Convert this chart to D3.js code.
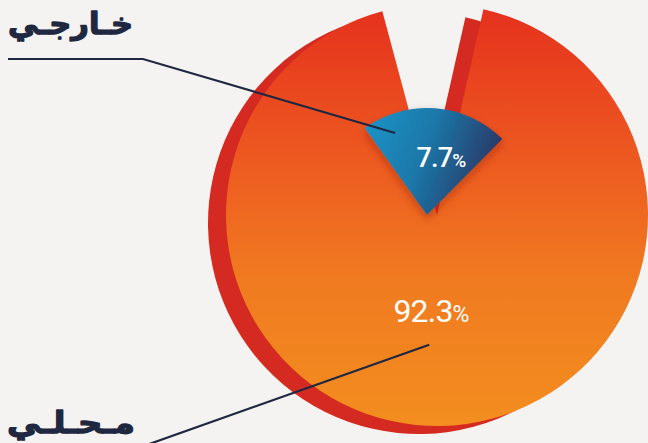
<!DOCTYPE html>
<html><head><meta charset="utf-8">
<script src="https://cdn.jsdelivr.net/npm/d3@7"></script>
<style>html,body{margin:0;padding:0;background:#f4f3f1;} svg{display:block;}</style>
</head><body><svg id="c" width="648" height="443"></svg>
<script>
// ---- data ----
const categories = ["خارجي", "محلي"];
const categoryLabels = ["خـارجـي", "مـحـلـي"];
const values = [7.7, 92.3];
const valueLabels = ["7.7", "92.3"];

// ---- layout ----
const W = 648, H = 443;
const cx = 437, cy = 215, R = 211;
const start = -0.262;
const svg = d3.select("#c");
const defs = svg.append("defs");

const faceGrad = defs.append("linearGradient").attr("id","face")
  .attr("gradientUnits","userSpaceOnUse").attr("x1",0).attr("y1",-R).attr("x2",0).attr("y2",R);
faceGrad.append("stop").attr("offset",0).attr("stop-color","#e5301d");
faceGrad.append("stop").attr("offset",0.3).attr("stop-color","#ec5220");
faceGrad.append("stop").attr("offset",0.65).attr("stop-color","#f07a20");
faceGrad.append("stop").attr("offset",1).attr("stop-color","#f38e1f");

const blueGrad = defs.append("linearGradient").attr("id","blue")
  .attr("gradientUnits","objectBoundingBox").attr("x1",0).attr("y1",0).attr("x2",1).attr("y2",0.3);
blueGrad.append("stop").attr("offset",0).attr("stop-color","#1a95c9");
blueGrad.append("stop").attr("offset",0.5).attr("stop-color","#1a78a9");
blueGrad.append("stop").attr("offset",1).attr("stop-color","#2a3a68");

const sh = defs.append("filter").attr("id","sh").attr("x","-30%").attr("y","-30%").attr("width","160%").attr("height","160%");
sh.append("feDropShadow").attr("dx",0).attr("dy",4).attr("stdDeviation",4)
  .attr("flood-color","#7a1a05").attr("flood-opacity",0.4);

const pie = d3.pie().sort(null).value(d => d).startAngle(start).endAngle(start + 2*Math.PI);
const arcs = pie(values);
const big = arcs[1], small = arcs[0];

const arcBig = d3.arc().innerRadius(0).outerRadius(R);

// rim (3D side)
svg.append("path").attr("d", arcBig(big))
  .attr("transform", `translate(${cx-18},${cy+8})`).attr("fill","#d52a21");
// face
svg.append("path").attr("d", arcBig(big))
  .attr("transform", `translate(${cx},${cy})`).attr("fill","url(#face)");

// exploded small wedge (drawn wider for emphasis)
const bx = cx - 10, by = cy;
const spread = 2.9;
const mid = (small.startAngle + small.endAngle)/2 + 0.1;
const half = (small.endAngle - small.startAngle) * spread / 2;
const arcSmall = d3.arc().innerRadius(0).outerRadius(107);
svg.append("path").attr("d", arcSmall({startAngle: mid-half, endAngle: mid+half}))
  .attr("transform", `translate(${bx},${by})`).attr("fill","url(#blue)").attr("filter","url(#sh)");

// value labels
function pctText(x, y, num, size, pctSize, weight){
  const t = svg.append("text").attr("x",x).attr("y",y).attr("text-anchor","middle")
    .attr("fill","#ffffff").attr("font-family","Roboto, 'Liberation Sans', sans-serif")
    .attr("font-weight",weight).attr("font-size",size).attr("letter-spacing",-0.8);
  t.append("tspan").text(num);
  t.append("tspan").attr("font-size",pctSize).text("%");
}
pctText(bx+14, by-48, valueLabels[0], 27, 19, 500);
pctText(cx-6, cy+107, valueLabels[1], 32, 23, 400);

// leader lines
const pt = (ox, oy, a, r) => [ox + r*Math.sin(a), oy - r*Math.cos(a)];
const line = d3.line();
const pA = pt(bx, by, mid - 0.45, 88);
svg.append("path").attr("d", line([[8,59],[143,59],pA]))
  .attr("fill","none").attr("stroke","#1f2840").attr("stroke-width",2.2);
const bigMid = (big.startAngle + big.endAngle)/2;
const pB = pt(cx, cy, bigMid + 0.08, 130);
svg.append("path").attr("d", line([pB,[138,448]]))
  .attr("fill","none").attr("stroke","#1f2840").attr("stroke-width",2.2);

// category labels
function catLabel(text, xRight, y, width){
  const g = svg.append("g");
  const t = g.append("text").attr("x",0).attr("y",0).attr("text-anchor","start")
    .attr("fill","#1f2840").attr("stroke","#1f2840").attr("stroke-width",1.3)
    .attr("stroke-linejoin","round")
    .attr("font-family","'DejaVu Sans', sans-serif")
    .attr("font-weight","bold").attr("font-size",30).text(text);
  const bb = t.node().getBBox();
  const s = width / bb.width;
  g.attr("transform", `translate(${xRight - bb.width*s - bb.x*s},${y}) scale(${s},1)`);
}
catLabel(categoryLabels[0], 133, 34, 125);
catLabel(categoryLabels[1], 135, 433, 128);
</script></body></html>
